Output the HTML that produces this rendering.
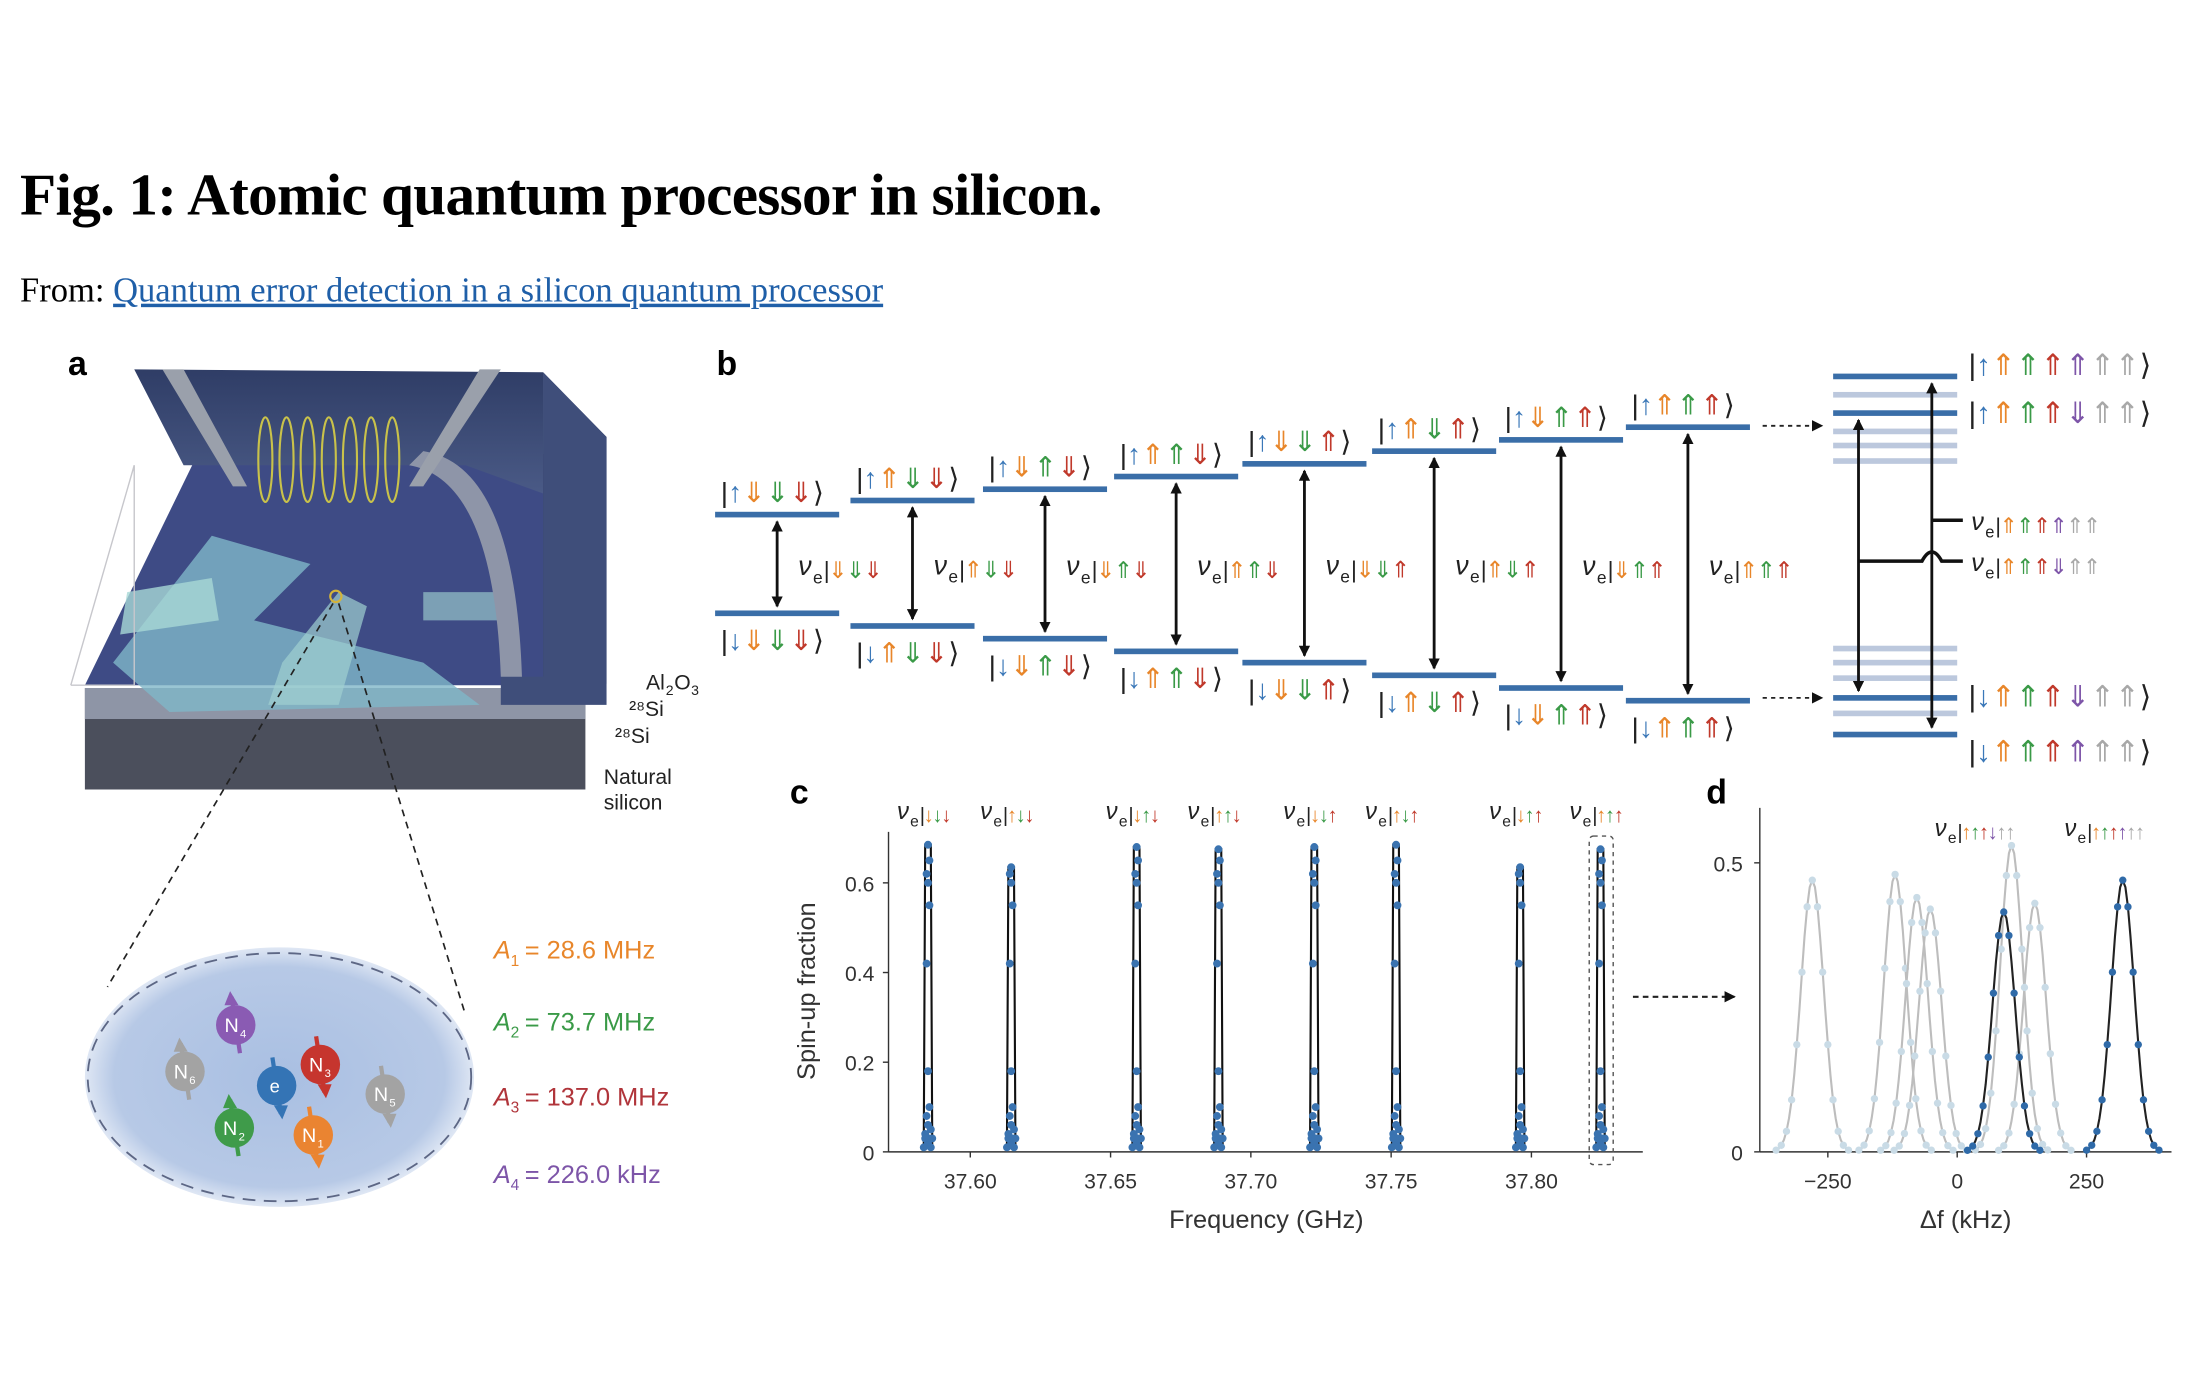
<!DOCTYPE html>
<html><head><meta charset="utf-8">
<style>
html,body{margin:0;padding:0;background:#fff;}
svg{display:block;}
text{font-family:"Liberation Sans",sans-serif;}
</style></head>
<body>
<svg id="s" width="2200" height="1400" viewBox="0 0 1560 993" xmlns="http://www.w3.org/2000/svg">
<defs>
<radialGradient id="eg" cx="50%" cy="50%" r="50%">
<stop offset="0" stop-color="#a9bfe2"/><stop offset="0.85" stop-color="#b7c9e6"/><stop offset="1" stop-color="#dfe7f4"/>
</radialGradient>
<linearGradient id="top" x1="0" y1="0" x2="0" y2="1"><stop offset="0" stop-color="#2f3d66"/><stop offset="1" stop-color="#4a5a86"/></linearGradient>
<marker id="ah" markerWidth="8" markerHeight="8" refX="7" refY="4" orient="auto-start-reverse" markerUnits="userSpaceOnUse"><path d="M0,0 L8,4 L0,8 z" fill="#111"/></marker>
</defs>
<text x="14" y="152" font-weight="bold" font-size="42" style="font-family:'Liberation Serif',serif;letter-spacing:-0.5px">Fig. 1: Atomic quantum processor in silicon.</text>
<text x="14" y="214" font-size="24.5" style="font-family:'Liberation Serif',serif">From: <tspan fill="#1f5fa8" text-decoration="underline">Quantum error detection in a silicon quantum processor</tspan></text>
<text x="48" y="266" font-size="24" font-weight="bold">a</text>
<text x="508" y="266" font-size="24" font-weight="bold">b</text>
<text x="560" y="570" font-size="24" font-weight="bold">c</text>
<text x="1210" y="570" font-size="24" font-weight="bold">d</text>
<g id="pa"></g>
<g id="pb"></g>
<g id="pc"></g>
<g id="pd"></g>
</svg>
<script>
const NS="http://www.w3.org/2000/svg";
function el(p,t,a,txt){const e=document.createElementNS(NS,t);for(const k in a)e.setAttribute(k,a[k]);if(txt!==undefined)e.textContent=txt;p.appendChild(e);return e;}
const C={b:"#3b78b8",o:"#e8862a",g:"#3a9a47",r:"#c0392b",p:"#7d55a8",k:"#a8a8a8"};
function ket(p,x,y,sz,parts,br){
 const t=el(p,"text",{x:x,y:y,"font-size":sz});
 if(br!==false){el(t,"tspan",{fill:"#222"},"|");}
 parts.forEach(q=>el(t,"tspan",{fill:C[q[1]]},q[0]));
 if(br!==false)el(t,"tspan",{fill:"#222"},"⟩");
 return t;
}
function nu(p,x,y,sz,parts){
 el(p,"text",{x:x,y:y,"font-size":sz,"font-style":"italic",fill:"#222"},"ν");
 el(p,"text",{x:x+sz*0.55,y:y+sz*0.3,"font-size":sz*0.65,fill:"#222"},"e");
 const k=el(p,"text",{x:x+sz*0.95,y:y+2,"font-size":sz*0.85,"letter-spacing":"-1"});
 el(k,"tspan",{fill:"#222"},"|");
 parts.forEach(q=>el(k,"tspan",{fill:C[q[1]]},q[0]));
}
// ===== panel a
const A=document.getElementById("pa");
el(A,"polygon",{points:"60,488 415,488 415,560 60,560",fill:"#4b4f5c"});
el(A,"polygon",{points:"60,488 415,488 415,510 60,510",fill:"#8e95a6"});
el(A,"polygon",{points:"60,486 140,322 395,322 420,486",fill:"#3e4b85"});
el(A,"polygon",{points:"80,470 150,380 220,400 180,440 300,470 340,500 120,505",fill:"#7fb7c8",opacity:0.8});
el(A,"polygon",{points:"90,420 150,410 155,440 85,450",fill:"#a7d8d6",opacity:0.8});
el(A,"polygon",{points:"300,420 360,420 360,440 300,440",fill:"#a7d8d6",opacity:0.6});
el(A,"polygon",{points:"200,470 240,420 260,430 240,500 190,500",fill:"#9fd0d0",opacity:0.7});
el(A,"polygon",{points:"95,262 385,264 385,480 430,485 430,310 385,264",fill:"#2f3d66"});
el(A,"polygon",{points:"95,262 385,264 385,350 330,330 130,330",fill:"url(#top)"});
el(A,"polygon",{points:"385,264 430,310 430,500 355,500 355,480 385,480",fill:"#3f4e7a"});
el(A,"path",{d:"M290,330 Q350,340 355,480 L370,480 Q365,330 300,320 z",fill:"#8e95a8"});
el(A,"polygon",{points:"115,262 130,262 175,345 165,345",fill:"#9aa0ab"});
el(A,"polygon",{points:"340,262 355,262 300,345 290,345",fill:"#9aa0ab"});
for(let i=0;i<7;i++){el(A,"ellipse",{cx:188+i*15,cy:326,rx:5,ry:30,fill:"none",stroke:"#c9c24a","stroke-width":1.5});}
el(A,"polyline",{points:"50,486 95,330 95,486 50,486",fill:"none",stroke:"#c7c7cc","stroke-width":1});
el(A,"circle",{cx:238,cy:423,r:4,fill:"none",stroke:"#d4b43a","stroke-width":1.5});
el(A,"line",{x1:236,y1:428,x2:76,y2:700,stroke:"#222","stroke-dasharray":"5,4","stroke-width":1.2});
el(A,"line",{x1:240,y1:428,x2:330,y2:720,stroke:"#222","stroke-dasharray":"5,4","stroke-width":1.2});
[["Al",458,489],["²⁸Si",446,508],["²⁸Si",436,527],["Natural",428,556],["silicon",428,574]].forEach(q=>el(A,"text",{x:q[1],y:q[2],"font-size":15,fill:"#222"},q[0]));
el(A,"text",{x:472,y:493,"font-size":10,fill:"#222"},"2");el(A,"text",{x:478,y:489,"font-size":15,fill:"#222"},"O");el(A,"text",{x:490,y:493,"font-size":10,fill:"#222"},"3");
el(A,"ellipse",{cx:198,cy:764,rx:138,ry:92,fill:"url(#eg)"});
el(A,"ellipse",{cx:198,cy:764,rx:136,ry:88,fill:"none",stroke:"#5d6785","stroke-width":1.3,"stroke-dasharray":"9,6"});
function nuc(x,y,c,lab,sub,up){
 const d=up?-1:1;
 el(A,"line",{x1:x-3*d,y1:y-20*d,x2:x+3*d,y2:y+20*d,stroke:c,"stroke-width":3});
 el(A,"polygon",{points:`${x+3*d-5},${y+14*d} ${x+3*d+5},${y+14*d} ${x+4*d},${y+24*d}`,fill:c});
 el(A,"circle",{cx:x,cy:y,r:14,fill:c});
 if(lab){el(A,"text",{x:x-8,y:y+5,"font-size":14,fill:"#fff"},lab);el(A,"text",{x:x+3,y:y+9,"font-size":8,fill:"#fff"},sub);}
}
nuc(167,727,"#8a5bb3","N","4",true);nuc(131,760,"#a3a3a3","N","6",true);nuc(227,755,"#c6352e","N","3",false);
nuc(196,770,"#3474b5","","",false);el(A,"text",{x:191,y:775,"font-size":13,fill:"#fff"},"e");
nuc(273,776,"#a3a3a3","N","5",false);nuc(166,800,"#3f9b4a","N","2",true);nuc(222,805,"#ea8431","N","1",false);
[["#e8862a","1","28.6 MHz",680],["#3a9a47","2","73.7 MHz",731],["#b0343a","3","137.0 MHz",784],["#7d55a8","4","226.0 kHz",839]].forEach(q=>{
 el(A,"text",{x:350,y:q[3],"font-size":18,fill:q[0],"font-style":"italic"},"A");
 el(A,"text",{x:362,y:q[3]+5,"font-size":11,fill:q[0]},q[1]);
 el(A,"text",{x:372,y:q[3],"font-size":18,fill:q[0]},"= "+q[2]);
});
// ===== panel b
const B=document.getElementById("pb");
const cols=[[507,365,435],[603,355,444],[697,347,453],[790,338,462],[881,329,470],[973,320,479],[1063,312,488],[1153,303,497]];
const cfg=[[0,0,0],[1,0,0],[0,1,0],[1,1,0],[0,0,1],[1,0,1],[0,1,1],[1,1,1]];
const cl=["o","g","r"];
cols.forEach((c,i)=>{
 const [x,yu,yl]=c,cx=x+44;
 el(B,"rect",{x:x,y:yu-2,width:88,height:4,fill:"#3a6ea8"});
 el(B,"rect",{x:x,y:yl-2,width:88,height:4,fill:"#3a6ea8"});
 el(B,"line",{x1:cx,y1:yu+5,x2:cx,y2:yl-5,stroke:"#111","stroke-width":2,"marker-start":"url(#ah)","marker-end":"url(#ah)"});
 const n=cfg[i].map((v,j)=>[v?"⇑":"⇓",cl[j]]);
 ket(B,x+4,yu-9,20,[["↑","b"]].concat(n));
 ket(B,x+4,yl+26,20,[["↓","b"]].concat(n));
 nu(B,cx+15,yl-(yl-yu)/2+8,19,cfg[i].map((v,j)=>[v?"⇑":"⇓",cl[j]]));
});
el(B,"line",{x1:1250,y1:302,x2:1292,y2:302,stroke:"#222","stroke-dasharray":"3,3","stroke-width":1.3,"marker-end":"url(#ah)"});
el(B,"line",{x1:1250,y1:495,x2:1292,y2:495,stroke:"#222","stroke-dasharray":"3,3","stroke-width":1.3,"marker-end":"url(#ah)"});
[280,306,316,327,460,470,481,506].forEach(y=>el(B,"rect",{x:1300,y:y-2,width:88,height:4,fill:"#bcc8dd"}));
[267,293,495,521].forEach(y=>el(B,"rect",{x:1300,y:y-2,width:88,height:4,fill:"#3a6ea8"}));
el(B,"line",{x1:1318,y1:298,x2:1318,y2:490,stroke:"#111","stroke-width":2,"marker-start":"url(#ah)","marker-end":"url(#ah)"});
el(B,"line",{x1:1370,y1:272,x2:1370,y2:516,stroke:"#111","stroke-width":2,"marker-start":"url(#ah)","marker-end":"url(#ah)"});
el(B,"line",{x1:1370,y1:369,x2:1392,y2:369,stroke:"#111","stroke-width":2.5});
el(B,"path",{d:"M1318,398 L1363,398 Q1370,385 1377,398 L1392,398",fill:"none",stroke:"#111","stroke-width":2.5});
const rk=[[["↑","b"],["⇑","o"],["⇑","g"],["⇑","r"],["⇑","p"],["⇑","k"],["⇑","k"]],
 [["↑","b"],["⇑","o"],["⇑","g"],["⇑","r"],["⇓","p"],["⇑","k"],["⇑","k"]],
 [["↓","b"],["⇑","o"],["⇑","g"],["⇑","r"],["⇓","p"],["⇑","k"],["⇑","k"]],
 [["↓","b"],["⇑","o"],["⇑","g"],["⇑","r"],["⇑","p"],["⇑","k"],["⇑","k"]]];
[266,300,501,540].forEach((y,i)=>ket(B,1396,y,21,rk[i]));
nu(B,1398,376,18,[["⇑","o"],["⇑","g"],["⇑","r"],["⇑","p"],["⇑","k"],["⇑","k"]]);
nu(B,1398,405,18,[["⇑","o"],["⇑","g"],["⇑","r"],["⇓","p"],["⇑","k"],["⇑","k"]]);
// ===== panel c
const P=document.getElementById("pc");
const X0=630,X1=1165,Y0=817;
el(P,"line",{x1:X0,y1:590,x2:X0,y2:Y0,stroke:"#333","stroke-width":1});
el(P,"line",{x1:X0,y1:Y0,x2:X1,y2:Y0,stroke:"#333","stroke-width":1});
[[0,"0"],[0.2,"0.2"],[0.4,"0.4"],[0.6,"0.6"]].forEach(q=>{const y=Y0-318*q[0];el(P,"line",{x1:X0-4,y1:y,x2:X0,y2:y,stroke:"#333"});el(P,"text",{x:X0-10,y:y+6,"font-size":15,"text-anchor":"end",fill:"#333"},q[1]);});
["37.60","37.65","37.70","37.75","37.80"].forEach((s,i)=>{const x=688+i*99.5;el(P,"line",{x1:x,y1:Y0,x2:x,y2:Y0+4,stroke:"#333"});el(P,"text",{x:x,y:Y0+26,"font-size":15,"text-anchor":"middle",fill:"#333"},s);});
el(P,"text",{x:898,y:871,"font-size":18,"text-anchor":"middle",fill:"#333"},"Frequency (GHz)");
el(P,"text",{x:0,y:0,"font-size":18,"text-anchor":"middle",fill:"#333",transform:"translate(578,703) rotate(-90)"},"Spin-up fraction");
const pk=[[658,.685],[717,.635],[806,.68],[864,.675],[932,.68],[990,.685],[1078,.635],[1135,.675]];
pk.forEach((q,i)=>{
 const [x,h]=q;
 el(P,"path",{d:`M${x-3},${Y0-5} L${x-2},${Y0-318*h} L${x+2},${Y0-318*h} L${x+3},${Y0-5}`,fill:"none",stroke:"#111","stroke-width":1.5});
 const pts=[[0,.02],[-2,.04],[2,.05],[-3,.01],[3,.03],[0,.06],[-1,.08],[1,.1],[0,.18],[-1,.42],[1,.55],[0,.6],[-1,.62],[1,.65],[0,h],[2,.01],[-2,.03],[1,.03]];
 pts.forEach(p=>{if(p[1]<=h)el(P,"circle",{cx:x+p[0],cy:Y0-318*p[1],r:2.8,fill:"#3a73b0"});});
 const n=cfg[i].map((v,j)=>[v?"↑":"↓",cl[j]]);
 nu(P,x-22,581,17,n);
});
el(P,"rect",{x:1127,y:593,width:17,height:233,rx:3,fill:"none",stroke:"#555","stroke-dasharray":"3,3","stroke-width":1});
el(P,"line",{x1:1158,y1:707,x2:1230,y2:707,stroke:"#222","stroke-dasharray":"4,3","stroke-width":1.5,"marker-end":"url(#ah)"});
// ===== panel d
const D=document.getElementById("pd");
const DX=1388,sx=0.367,DY=817;
el(D,"line",{x1:1248,y1:573,x2:1248,y2:DY,stroke:"#333"});
el(D,"line",{x1:1248,y1:DY,x2:1540,y2:DY,stroke:"#333"});
[[0,"0"],[0.5,"0.5"]].forEach(q=>{const y=DY-410*q[0];el(D,"line",{x1:1244,y1:y,x2:1248,y2:y,stroke:"#333"});el(D,"text",{x:1236,y:y+6,"font-size":15,"text-anchor":"end",fill:"#333"},q[1]);});
[[-250,"−250"],[0,"0"],[250,"250"]].forEach(q=>{const x=DX+q[0]*sx;el(D,"line",{x1:x,y1:DY,x2:x,y2:DY+4,stroke:"#333"});el(D,"text",{x:x,y:DY+26,"font-size":15,"text-anchor":"middle",fill:"#333"},q[1]);});
el(D,"text",{x:1394,y:871,"font-size":18,"text-anchor":"middle",fill:"#333"},"Δf (kHz)");
function peak(c,h,dark){
 let d="",pts=[];
 for(let k=-14;k<=14;k++){const f=c+k*5;const v=h*Math.exp(-Math.pow(k*5,2)/(2*22*22));const x=DX+f*sx,y=DY-410*v;pts.push([x,y]);d+=(d?"L":"M")+x.toFixed(1)+","+y.toFixed(1);}
 el(D,"path",{d:d,fill:"none",stroke:dark?"#222":"#bdbdbd","stroke-width":1.5});
 pts.forEach((p,i)=>{if(i%2==0)el(D,"circle",{cx:p[0],cy:p[1],r:2.6,fill:dark?"#2f6aa8":"#c9dbe6"});});
}
[[-280,.47],[-120,.48],[-78,.44],[-52,.42],[105,.53],[150,.43]].forEach(q=>peak(q[0],q[1],false));
[[90,.415],[320,.47]].forEach(q=>peak(q[0],q[1],true));
nu(D,1372,593,17,[["↑","o"],["↑","g"],["↑","r"],["↓","p"],["↑","k"],["↑","k"]]);
nu(D,1464,593,17,[["↑","o"],["↑","g"],["↑","r"],["↑","p"],["↑","k"],["↑","k"]]);
</script>
</body></html>
